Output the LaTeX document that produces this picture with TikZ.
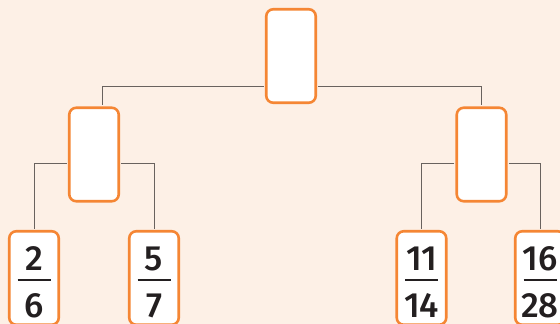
\documentclass[tikz,border=0pt]{standalone}
\usepackage{fontspec}
\setmainfont{Fira Sans}[UprightFont={* Medium}]
\usetikzlibrary{positioning,calc}
\definecolor{bg}{RGB}{253,240,230}
\definecolor{or}{RGB}{245,134,52}
\definecolor{ln}{RGB}{105,98,94}
\definecolor{tx}{RGB}{35,31,32}
\tikzset{
    nbox/.style={rectangle,draw=or,line width=2.6pt,rounded corners=7pt,fill=white,minimum width=49.5pt,minimum height=93.5pt,inner sep=0pt},
    fbox/.style={nbox,align=center,font=\fontsize{35}{47}\selectfont,text=tx,
        path picture={\draw[tx,line width=2.3pt] ($(path picture bounding box.center)+(-16.5pt,-2pt)$) -- ++(33pt,0);}},
    nline/.style={line width=0.9pt,ln,shorten <=1.2pt,shorten >=1.2pt},
}
\newcommand{\numtop}[1]{\rule{0pt}{33pt}#1}
\begin{document}
\begin{tikzpicture}[x=1pt,y=1pt]
\fill[bg] (0,0) rectangle (560,324);
\useasboundingbox (0,0) rectangle (560,324);
\clip (0,0) rectangle (560,324);
\node[nbox] (top) at (291,268) {};
\node[nbox] (lm) at (94,169.5) {};
\node[nbox] (rm) at (481.5,169.5) {};
\node[fbox] (b1) at (34,46) {\numtop{2}\\6};
\node[fbox] (b2) at (154,46) {\numtop{5}\\7};
\node[fbox] (b3) at (421.5,46) {\numtop{11}\\14};
\node[fbox] (b4) at (540,46) {\numtop{16}\\28};
\draw[nline] ([yshift=-30pt]top.west) -| ([xshift=8pt]lm.north); \draw[nline] ([yshift=-30pt]top.east) -| (rm.north);
\draw[nline] ([yshift=-8.5pt]lm.west) -| (b1.north); \draw[nline] ([yshift=-8.5pt]lm.east) -| (b2.north);
\draw[nline] ([yshift=-8.5pt]rm.west) -| (b3.north); \draw[nline] ([yshift=-8.5pt]rm.east) -| (b4.north);
\end{tikzpicture}
\end{document}
